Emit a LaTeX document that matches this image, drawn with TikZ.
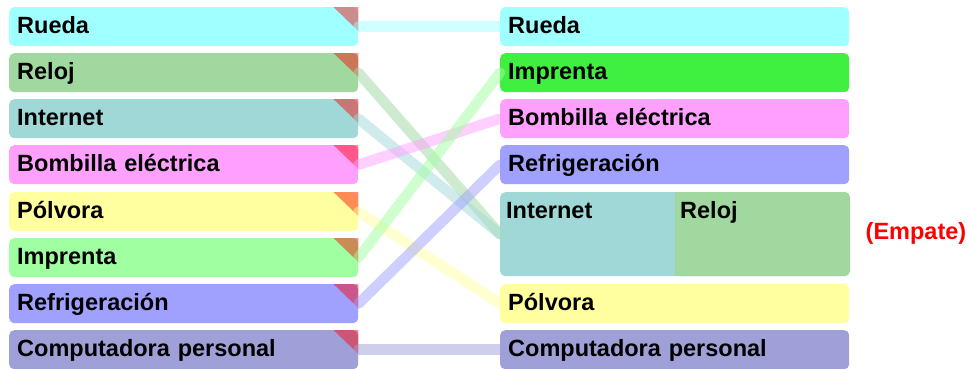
\documentclass[tikz,border=0pt]{standalone}
\usepackage{fontspec}
\setmainfont{Liberation Sans}
\definecolor{cRueda}{HTML}{A0FFFF}
\definecolor{cReloj}{HTML}{A0D8A0}
\definecolor{cInternet}{HTML}{A0D8D8}
\definecolor{cBombilla}{HTML}{FFA0FF}
\definecolor{cPolvora}{HTML}{FFFFA0}
\definecolor{cImprenta}{HTML}{A0FFA0}
\definecolor{cImprentaR}{HTML}{40F040}
\definecolor{cRefri}{HTML}{A0A0FF}
\definecolor{cCompu}{HTML}{A0A0D8}
\tikzset{
  box/.style={rectangle, rounded corners=5pt, draw=none, anchor=north west,
    minimum width=349pt, minimum height=39pt, text width=333pt, inner xsep=8pt,
    align=left, text height=17pt, text depth=3pt,
    font=\fontsize{23.5}{27}\selectfont\bfseries},
  lbl/.style={anchor=base west, inner sep=0pt, font=\fontsize{23.5}{27}\selectfont\bfseries},
  tri/.style={fill=red, opacity=0.45},
  conn/.style={line width=10.5pt, line cap=round, opacity=0.5}
}
\begin{document}
\begin{tikzpicture}[x=1pt, y=-1pt]
\useasboundingbox (0,0) rectangle (969,368);
% left column
\node[box, fill=cRueda] (l1) at (9,7) {Rueda};
\node[box, fill=cReloj] (l2) at (9,53) {Reloj};
\node[box, fill=cInternet] (l3) at (9,99) {Internet};
\node[box, fill=cBombilla] (l4) at (9,145) {Bombilla eléctrica};
\node[box, fill=cPolvora] (l5) at (9,192) {Pólvora};
\node[box, fill=cImprenta] (l6) at (9,238) {Imprenta};
\node[box, fill=cRefri] (l7) at (9,284) {Refrigeración};
\node[box, fill=cCompu] (l8) at (9,330) {Computadora personal};
% corner marks
\foreach \n in {l1,l2,l3,l4,l5,l6,l7,l8}
  \fill[tri] (\n.north east) -- ++(-25,0) -- ++(25,24) -- cycle;
% right column
\node[box, fill=cRueda] (r1) at (500,7) {Rueda};
\node[box, fill=cImprentaR] (r2) at (500,53) {Imprenta};
\node[box, fill=cBombilla] (r3) at (500,99) {Bombilla eléctrica};
\node[box, fill=cRefri] (r4) at (500,145) {Refrigeración};
\node[box, fill=cInternet, minimum height=84pt] (r5) at (500,192) {};
\fill[cReloj, rounded corners=5pt] (675,192) rectangle (850,276);
\fill[cReloj] (675,192) rectangle (685,276);
\node[lbl] (r5a) at (506,218) {Internet};
\node[lbl] (r5b) at (680,218) {Reloj};
\node[box, fill=cPolvora] (r6) at (500,284) {Pólvora};
\node[box, fill=cCompu] (r7) at (500,330) {Computadora personal};
\node[font=\fontsize{23.5}{27}\selectfont\bfseries, text=red] (emp) at (916,233) {(Empate)};
% connectors
\draw[conn, cRueda] (l1.east) -- (r1.west);
\draw[conn, cReloj] (l2.east) -- (r5.west);
\draw[conn, cInternet] (l3.east) -- (r5.west);
\draw[conn, cBombilla] (l4.east) -- (r3.west);
\draw[conn, cPolvora] (l5.east) -- (r6.west);
\draw[conn, cImprenta] (l6.east) -- (r2.west);
\draw[conn, cRefri] (l7.east) -- (r4.west);
\draw[conn, cCompu] (l8.east) -- (r7.west);
\end{tikzpicture}
\end{document}
